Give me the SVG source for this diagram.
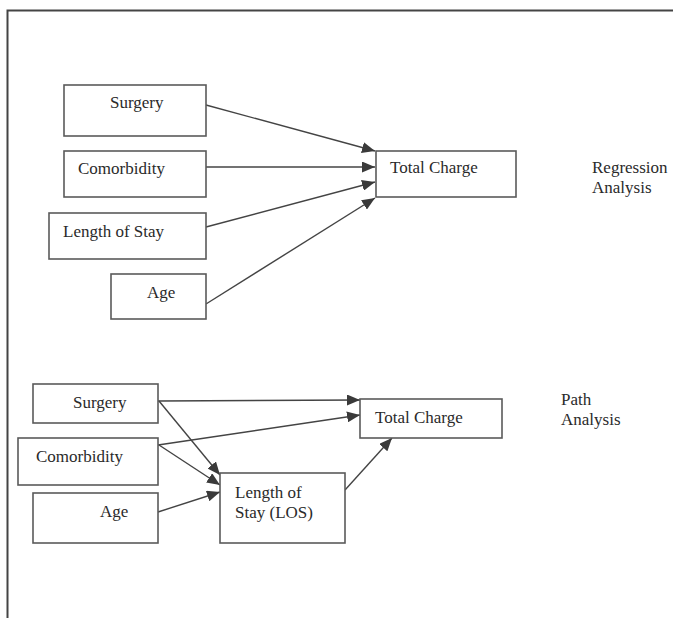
<svg xmlns="http://www.w3.org/2000/svg" width="673" height="618" viewBox="0 0 673 618">
<defs>
<marker id="ah" markerWidth="14" markerHeight="11" refX="13" refY="5.5" orient="auto" markerUnits="userSpaceOnUse">
<path d="M0,0 L13,5.5 L0,11 z" fill="#3a3a3a"/>
</marker>
<style>
.box{fill:#fff;stroke:#5a5a5a;stroke-width:1.6}
.lbl{font-family:"Liberation Serif","Times New Roman",serif;font-size:17px;fill:#2a2a2a}
.cn{stroke:#444;stroke-width:1.4;fill:none;marker-end:url(#ah)}
</style>
</defs>
<rect x="0" y="0" width="673" height="618" fill="#fff"/>
<path d="M7.5,618 V10.5 H673" fill="none" stroke="#444" stroke-width="2"/>

<g id="connectors">
<line class="cn" x1="206" y1="105" x2="375" y2="151"/>
<line class="cn" x1="206" y1="167" x2="375" y2="167"/>
<line class="cn" x1="206" y1="227" x2="375" y2="182"/>
<line class="cn" x1="206" y1="304" x2="375" y2="198"/>
<line class="cn" x1="158" y1="401" x2="360" y2="400"/>
<line class="cn" x1="158" y1="445" x2="360" y2="415"/>
<line class="cn" x1="159" y1="401" x2="220" y2="475"/>
<line class="cn" x1="159" y1="445" x2="220" y2="485"/>
<line class="cn" x1="158" y1="512" x2="220" y2="492"/>
<line class="cn" x1="345" y1="490" x2="392" y2="438"/>
</g>

<g id="reg-surgery"><rect class="box" x="64" y="85" width="142" height="51"/><text class="lbl" x="110" y="108">Surgery</text></g>
<g id="reg-comorbidity"><rect class="box" x="64" y="151" width="142" height="46"/><text class="lbl" x="78" y="174">Comorbidity</text></g>
<g id="reg-los"><rect class="box" x="49" y="213" width="157" height="46"/><text class="lbl" x="63" y="237">Length of Stay</text></g>
<g id="reg-age"><rect class="box" x="111" y="274" width="95" height="45"/><text class="lbl" x="147" y="298">Age</text></g>
<g id="reg-total"><rect class="box" x="376" y="151" width="140" height="46"/><text class="lbl" x="390" y="173">Total Charge</text></g>
<g id="reg-title"><text class="lbl" x="592" y="173">Regression</text><text class="lbl" x="592" y="193">Analysis</text></g>

<g id="path-surgery"><rect class="box" x="33" y="384" width="125" height="39"/><text class="lbl" x="73" y="408">Surgery</text></g>
<g id="path-comorbidity"><rect class="box" x="18" y="438" width="140" height="47"/><text class="lbl" x="36" y="462">Comorbidity</text></g>
<g id="path-age"><rect class="box" x="33" y="493" width="125" height="50"/><text class="lbl" x="100" y="517">Age</text></g>
<g id="path-los"><rect class="box" x="220" y="473" width="125" height="70"/><text class="lbl" x="235" y="498">Length of</text><text class="lbl" x="235" y="518">Stay (LOS)</text></g>
<g id="path-total"><rect class="box" x="360" y="399" width="142" height="39"/><text class="lbl" x="375" y="423">Total Charge</text></g>
<g id="path-title"><text class="lbl" x="561" y="405">Path</text><text class="lbl" x="561" y="425">Analysis</text></g>
</svg>
